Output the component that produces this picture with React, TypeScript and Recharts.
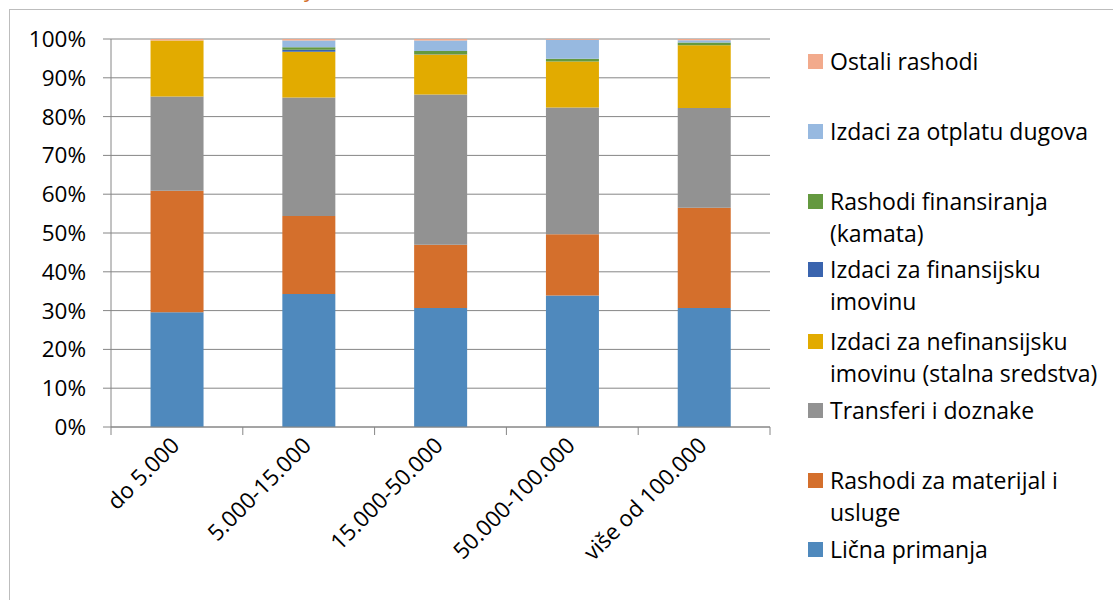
import { BarChart, Bar, XAxis, YAxis, CartesianGrid, Legend } from "recharts";

const categories = ["do 5.000", "5.000-15.000", "15.000-50.000", "50.000-100.000", "više od 100.000"];

const licnaPrimanja = [29.6, 34.3, 30.7, 33.9, 30.7];
const materijalUsluge = [31.3, 20.1, 16.3, 15.8, 25.8];
const transferi = [24.3, 30.5, 38.7, 32.7, 25.7];
const nefinansijska = [14.4, 11.8, 10.3, 11.9, 16.2];
const finansijska = [0, 0.5, 0.1, 0, 0];
const kamata = [0, 0.7, 0.8, 0.7, 0.7];
const otplataDugova = [0, 1.7, 2.7, 4.9, 0.6];
const ostali = [0.4, 0.4, 0.4, 0.2, 0.3];

const yTicks = [0, 0.1, 0.2, 0.3, 0.4, 0.5, 0.6, 0.7, 0.8, 0.9, 1];

// stacking order bottom -> top
const series = [
  { key: "licna", name: "Lična primanja", values: licnaPrimanja, color: "#4F89BD" },
  { key: "materijal", name: "Rashodi za materijal i usluge", values: materijalUsluge, color: "#D46F2C" },
  { key: "transferi", name: "Transferi i doznake", values: transferi, color: "#929292" },
  { key: "nefin", name: "Izdaci za nefinansijsku imovinu (stalna sredstva)", values: nefinansijska, color: "#E2AB00" },
  { key: "fin", name: "Izdaci za finansijsku imovinu", values: finansijska, color: "#3A64AE" },
  { key: "kamata", name: "Rashodi finansiranja (kamata)", values: kamata, color: "#64993F" },
  { key: "dugovi", name: "Izdaci za otplatu dugova", values: otplataDugova, color: "#97B9E0" },
  { key: "ostali", name: "Ostali rashodi", values: ostali, color: "#F2AA8C" },
];

// legend lines as Excel wrapped them, top -> bottom
const legendLines: Record<string, string[]> = {
  ostali: ["Ostali rashodi"],
  dugovi: ["Izdaci za otplatu dugova"],
  kamata: ["Rashodi finansiranja", "(kamata)"],
  fin: ["Izdaci za finansijsku", "imovinu"],
  nefin: ["Izdaci za nefinansijsku", "imovinu (stalna sredstva)"],
  transferi: ["Transferi i doznake"],
  materijal: ["Rashodi za materijal i", "usluge"],
  licna: ["Lična primanja"],
};
const legendOrder = ["ostali", "dugovi", "kamata", "fin", "nefin", "transferi", "materijal", "licna"];
const legendTops = [48, 118, 188, 256, 328, 397, 467, 536];

const data = categories.map((name, i) => {
  const row: Record<string, string | number> = { name };
  series.forEach((s) => {
    row[s.key] = s.values[i];
  });
  return row;
});

const FONT = "'Open Sans', Lato, sans-serif";
const AXIS = "#868686";
const W = 1113;
const H = 600;
const PLOT_LEFT = 111;
const PLOT_RIGHT = 770;
const PLOT_TOP = 39;
const PLOT_BOTTOM = 427;

function CategoryTick(props: any) {
  const { x, y, payload, index } = props;
  const half = payload?.offset || (PLOT_RIGHT - PLOT_LEFT) / categories.length / 2;
  const last = index === categories.length - 1;
  return (
    <g>
      <line x1={x - half} x2={x - half} y1={y} y2={y + 8} stroke={AXIS} />
      {last && <line x1={x + half} x2={x + half} y1={y} y2={y + 8} stroke={AXIS} />}
      <text
        x={0}
        y={0}
        dy="0.75em"
        textAnchor="end"
        fontFamily={FONT}
        fontSize={22.5}
        fill="#000"
        transform={`translate(${x - 8},${y + 8}) rotate(-45)`}
      >
        {payload.value}
      </text>
    </g>
  );
}

function LegendBlock() {
  return (
    <div style={{ position: "relative", width: 313, height: H, fontFamily: FONT, fontSize: 23, color: "#000" }}>
      {legendOrder.map((key, i) => {
        const s = series.find((d) => d.key === key)!;
        return (
          <div key={key} style={{ position: "absolute", left: 0, top: legendTops[i] }}>
            <div
              style={{
                position: "absolute",
                left: 8,
                top: 6,
                width: 15,
                height: 15,
                background: s.color,
              }}
            />
            {legendLines[key].map((line, j) => (
              <div
                key={j}
                style={{ position: "absolute", left: 30, top: j * 32 - 2, whiteSpace: "nowrap", lineHeight: "30px" }}
              >
                {line}
              </div>
            ))}
          </div>
        );
      })}
    </div>
  );
}

export default function App() {
  return (
    <div style={{ position: "absolute", left: 0, top: 0, width: W, height: H, overflow: "hidden", background: "#fff" }}>
      <div
        style={{
          position: "absolute",
          left: 9,
          top: 9,
          width: W + 40,
          height: H + 40,
          border: "1px solid #bdbdbd",
        }}
      />
      <svg style={{ position: "absolute", left: 0, top: 0 }} width={400} height={20}>
        <text x={304} y={-3} fontFamily={FONT} fontSize={22} fill="#D46F2C">
          y
        </text>
      </svg>
      <div style={{ position: "absolute", left: 0, top: 0 }}>
        <BarChart
          width={W}
          height={H}
          data={data}
          stackOffset="expand"
          barCategoryGap="30%"
          margin={{ top: PLOT_TOP, right: W - PLOT_RIGHT, bottom: 0, left: 0 }}
        >
          <CartesianGrid vertical={false} stroke={AXIS} strokeWidth={1} />
          <XAxis
            dataKey="name"
            height={H - PLOT_BOTTOM}
            tickLine={false}
            tickSize={0}
            tickMargin={0}
            axisLine={{ stroke: AXIS }}
            interval={0}
            tick={<CategoryTick />}
          />
          <YAxis
            width={PLOT_LEFT}
            domain={[0, 1]}
            ticks={yTicks}
            tickFormatter={(v: number) => `${Math.round(v * 100)}%`}
            tickSize={8}
            tickMargin={17}
            axisLine={{ stroke: AXIS }}
            tickLine={{ stroke: AXIS }}
            tick={{ fontFamily: FONT, fontSize: 22.5, fill: "#000" }}
          />
          <Legend
            layout="vertical"
            align="center"
            verticalAlign="middle"
            wrapperStyle={{ left: 800, top: 0, width: 313, height: H }}
            content={() => <LegendBlock />}
          />
          {series.map((s) => (
            <Bar key={s.key} dataKey={s.key} name={s.name} stackId="a" fill={s.color} isAnimationActive={false} />
          ))}
        </BarChart>
      </div>
    </div>
  );
}
